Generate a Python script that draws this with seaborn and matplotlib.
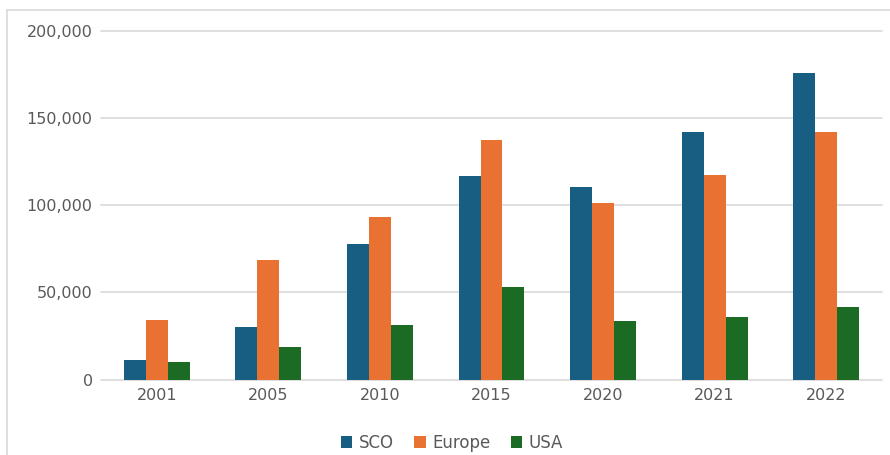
import matplotlib
matplotlib.use("Agg")
import matplotlib.pyplot as plt
import seaborn as sns
import pandas as pd
from matplotlib.lines import Line2D
from matplotlib.ticker import FuncFormatter

years = ["2001", "2005", "2010", "2015", "2020", "2021", "2022"]
sco = [11000, 30000, 78000, 117000, 110500, 142000, 176000]
europe = [34000, 68500, 93500, 137500, 101500, 117500, 142000]
usa = [9800, 18800, 31500, 53000, 33400, 36000, 41500]
series = ["SCO", "Europe", "USA"]
colors = ["#175E82", "#E97132", "#1B6B24"]

rows = []
for name, vals in zip(series, [sco, europe, usa]):
    for y, v in zip(years, vals):
        rows.append({"Year": y, "Series": name, "Value": v})
df = pd.DataFrame(rows)

sns.set_theme(style="white")
plt.rcParams["font.family"] = ["DejaVu Sans"]

fig = plt.figure(figsize=(8.9, 4.55), dpi=100)
ax = fig.add_axes([101 / 890, 1 - 379.5 / 455, (882 - 101) / 890, (379.5 - 31) / 455])

sns.barplot(data=df, x="Year", y="Value", hue="Series", order=years,
            hue_order=series, palette=colors, width=0.59, gap=0,
            saturation=1, ax=ax, linewidth=0)

ax.set_xlim(-0.5, 6.5)
ax.set_ylim(0, 200000)
ax.set_yticks([0, 50000, 100000, 150000, 200000])
ax.yaxis.set_major_formatter(FuncFormatter(lambda v, p: f"{int(v):,}"))
ax.grid(axis="y", color="#d9d9d9", linewidth=1.2)
ax.set_axisbelow(True)
for gl in ax.get_ygridlines():
    gl.set_clip_on(False)
for s in ax.spines.values():
    s.set_visible(False)
ax.set_xlabel("")
ax.set_ylabel("")
ax.tick_params(axis="both", length=0, labelsize=11.5, labelcolor="#595959")
ax.tick_params(axis="y", pad=6)
ax.tick_params(axis="x", pad=6)

handles, labels = ax.get_legend_handles_labels()
if ax.legend_:
    ax.legend_.remove()
fig.legend(handles, labels, loc="center", bbox_to_anchor=(452 / 890, 1 - 443 / 455),
           ncol=3, frameon=False, fontsize=12, handlelength=0.7, handleheight=0.7,
           handletextpad=0.4, columnspacing=1.2, labelcolor="#595959")

fig.add_artist(Line2D([7 / 890, 1.0], [1 - 10 / 455, 1 - 10 / 455],
                      transform=fig.transFigure, color="#d9d9d9", linewidth=1.2))
fig.add_artist(Line2D([7 / 890, 7 / 890], [0, 1 - 10 / 455],
                      transform=fig.transFigure, color="#d9d9d9", linewidth=1.2))

fig.savefig("out.png", dpi=100, facecolor="white")
